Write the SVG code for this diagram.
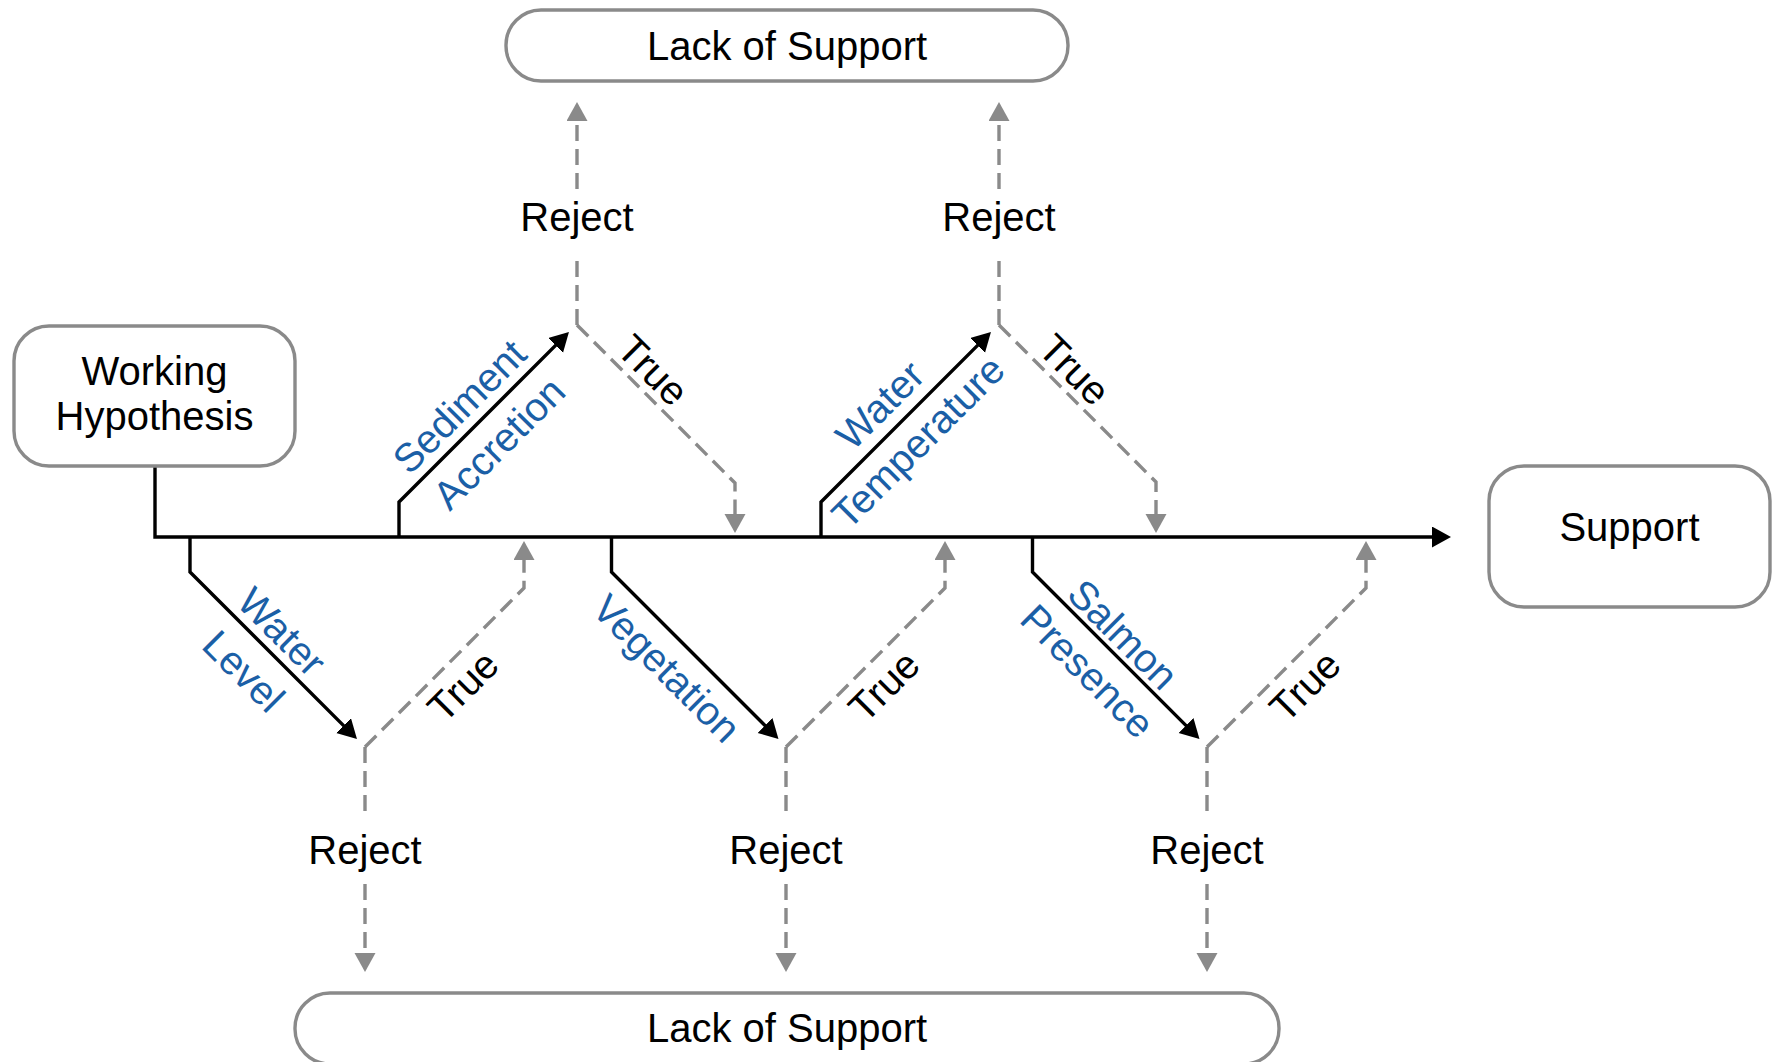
<svg xmlns="http://www.w3.org/2000/svg" width="1779" height="1062" viewBox="0 0 1779 1062">
  <style>
    .box { fill: #ffffff; stroke: #8a8a8a; stroke-width: 3.4; }
    .t { font-family: "Liberation Sans", Arial, sans-serif; font-size: 40px; fill: #000000; text-anchor: middle; }
    .b { font-family: "Liberation Sans", Arial, sans-serif; font-size: 40px; fill: #1b5fa6; text-anchor: middle; }
    .solid { fill: none; stroke: #000000; stroke-width: 3.4; marker-end: url(#arrowBlack); }
    .dash { fill: none; stroke: #8a8a8a; stroke-width: 3.4; stroke-dasharray: 16 8; marker-end: url(#arrowGray); }
  </style>
  <defs>
    <marker id="arrowBlack" markerUnits="userSpaceOnUse" markerWidth="20" markerHeight="22" refX="10" refY="10.5" orient="auto">
      <path d="M0,0 L19,10.5 L0,21 Z" fill="#000000"/>
    </marker>
    <marker id="arrowGray" markerUnits="userSpaceOnUse" markerWidth="20" markerHeight="22" refX="10" refY="10.5" orient="auto">
      <path d="M0,0 L19,10.5 L0,21 Z" fill="#8a8a8a"/>
    </marker>
  </defs>
  <rect width="1779" height="1062" fill="#ffffff"/>

  <g id="connectors">
    <!-- main spine -->
    <path class="solid" d="M155,467 L155,537 L1442,537"/>
    <!-- factor branches -->
    <path class="solid" d="M399,537 L399,502 L562.6,338.4"/>
    <path class="solid" d="M821,537 L821,502 L984.6,338.4"/>
    <path class="solid" d="M190,537 L190,572 L350.6,732.6"/>
    <path class="solid" d="M611.5,537 L611.5,572 L772.1,732.6"/>
    <path class="solid" d="M1032.5,537 L1032.5,572 L1193.1,732.6"/>
    <!-- top reject connectors -->
    <path class="dash" d="M577,325 L577,253 M577,189 L577,111"/>
    <path class="dash" d="M999,325 L999,253 M999,189 L999,111"/>
    <!-- top true connectors -->
    <path class="dash" d="M577,325 L735,483 L735,524"/>
    <path class="dash" d="M999,325 L1156,482 L1156,524"/>
    <!-- bottom reject connectors -->
    <path class="dash" d="M365,747 L365,816 M365,884 L365,963"/>
    <path class="dash" d="M786,747 L786,816 M786,884 L786,963"/>
    <path class="dash" d="M1207,747 L1207,816 M1207,884 L1207,963"/>
    <!-- bottom true connectors -->
    <path class="dash" d="M365,747 L524,588 L524,550"/>
    <path class="dash" d="M786,747 L945,588 L945,550"/>
    <path class="dash" d="M1207,747 L1366,588 L1366,550"/>

    <!-- connector labels -->
    <text class="t" x="577" y="231">Reject</text>
    <text class="t" x="999" y="231">Reject</text>
    <text class="t" x="365" y="864">Reject</text>
    <text class="t" x="786" y="864">Reject</text>
    <text class="t" x="1207" y="864">Reject</text>

    <g transform="translate(656,404) rotate(45)"><text class="t" x="-26" y="-8">True</text></g>
    <g transform="translate(1077.5,403.5) rotate(45)"><text class="t" x="-26" y="-8">True</text></g>
    <g transform="translate(444.5,667.5) rotate(-45)"><text class="t" x="0" y="40">True</text></g>
    <g transform="translate(865.5,667.5) rotate(-45)"><text class="t" x="0" y="40">True</text></g>
    <g transform="translate(1286.5,667.5) rotate(-45)"><text class="t" x="0" y="40">True</text></g>

    <g transform="translate(484,417) rotate(-45)">
      <text class="b" x="-10" y="-11">Sediment</text>
      <text class="b" x="-8" y="43">Accretion</text>
    </g>
    <g transform="translate(906,417) rotate(-45)">
      <text class="b" x="-10" y="-13">Water</text>
      <text class="b" x="-9" y="40">Temperature</text>
    </g>
    <g transform="translate(273.5,655.5) rotate(45)">
      <text class="b" x="-11" y="-9">Water</text>
      <text class="b" x="-10" y="46">Level</text>
    </g>
    <g transform="translate(695,655.5) rotate(45)">
      <text class="b" x="-11" y="43">Vegetation</text>
    </g>
    <g transform="translate(1116,655.5) rotate(45)">
      <text class="b" x="-10" y="-6">Salmon</text>
      <text class="b" x="-9" y="45">Presence</text>
    </g>
  </g>

  <g id="working-hypothesis">
    <rect class="box" x="14" y="326" width="281" height="140" rx="35" ry="35"/>
    <text class="t" x="154.5" y="385">Working</text>
    <text class="t" x="154.5" y="430">Hypothesis</text>
  </g>
  <g id="support">
    <rect class="box" x="1489" y="466" width="281" height="141" rx="35" ry="35"/>
    <text class="t" x="1629.5" y="541">Support</text>
  </g>
  <g id="lack-of-support-top">
    <rect class="box" x="506" y="10" width="562" height="71" rx="35" ry="35"/>
    <text class="t" x="787" y="60">Lack of Support</text>
  </g>
  <g id="lack-of-support-bottom">
    <rect class="box" x="295" y="993" width="984" height="71" rx="35" ry="35"/>
    <text class="t" x="787" y="1042">Lack of Support</text>
  </g>
</svg>
